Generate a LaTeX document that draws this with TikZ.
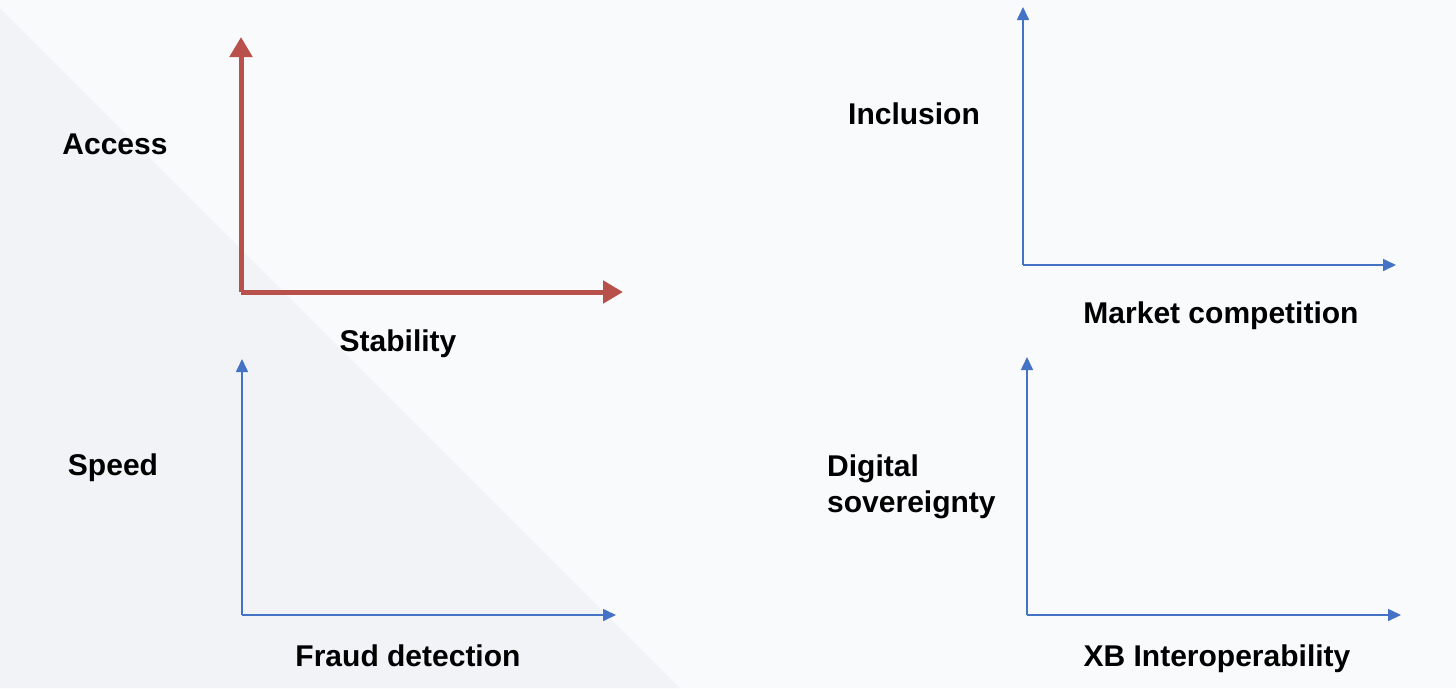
\documentclass[tikz,border=0pt]{standalone}
\usepackage{fontspec}
\setmainfont{Liberation Sans}
\usetikzlibrary{arrows.meta}
\definecolor{bgA}{HTML}{F9FAFC}
\definecolor{bgB}{HTML}{F1F3F7}
\definecolor{axred}{RGB}{184,80,76}
\definecolor{axblue}{RGB}{68,114,196}
\tikzset{
  lbl/.style={font=\fontsize{30}{36}\selectfont\bfseries, text=black, inner sep=0pt},
  blueaxis/.style={draw=axblue, line width=1.6pt, -{Triangle[length=13pt,width=12pt]}},
  redaxis/.style={draw=axred, line width=5pt, -{Triangle[length=20pt,width=22pt]}}
}
\begin{document}
\begin{tikzpicture}[x=1pt,y=-1pt]
\useasboundingbox (0,0) rectangle (1456,688);
\fill[bgA] (0,0) rectangle (1456,688);
\fill[bgB] (0,8) -- (680,688) -- (0,688) -- cycle;
% red axes
\coordinate (o1) at (241,292);
\coordinate (y1) at (241,37);
\coordinate (x1) at (623,292);
\draw[redaxis] (o1) -- (y1);
\draw[redaxis] (o1) -- (x1);
\node[lbl] (access) at (115,144) {Access};
\node[lbl] (stab) at (398,344) {Stability};
% bottom left
\coordinate (o2) at (242,615);
\coordinate (y2) at (242,359);
\coordinate (x2) at (616,615);
\draw[blueaxis] (o2) -- (y2);
\draw[blueaxis] (o2) -- (x2);
\node[lbl] (speed) at (113,468) {Speed};
\node[lbl] (fraud) at (408,656) {Fraud detection};
% top right
\coordinate (o3) at (1023,265);
\coordinate (y3) at (1023,7);
\coordinate (x3) at (1396,265);
\draw[blueaxis] (o3) -- (y3);
\draw[blueaxis] (o3) -- (x3);
\node[lbl] (incl) at (914,114) {Inclusion};
\node[lbl] (market) at (1221,316) {Market competition};
% bottom right
\coordinate (o4) at (1027,615);
\coordinate (y4) at (1027,357);
\coordinate (x4) at (1401,615);
\draw[blueaxis] (o4) -- (y4);
\draw[blueaxis] (o4) -- (x4);
\node[lbl, align=left, anchor=west] (digital) at (827,487) {Digital\\sovereignty};
\node[lbl] (xb) at (1217,659) {XB Interoperability};
\end{tikzpicture}
\end{document}
